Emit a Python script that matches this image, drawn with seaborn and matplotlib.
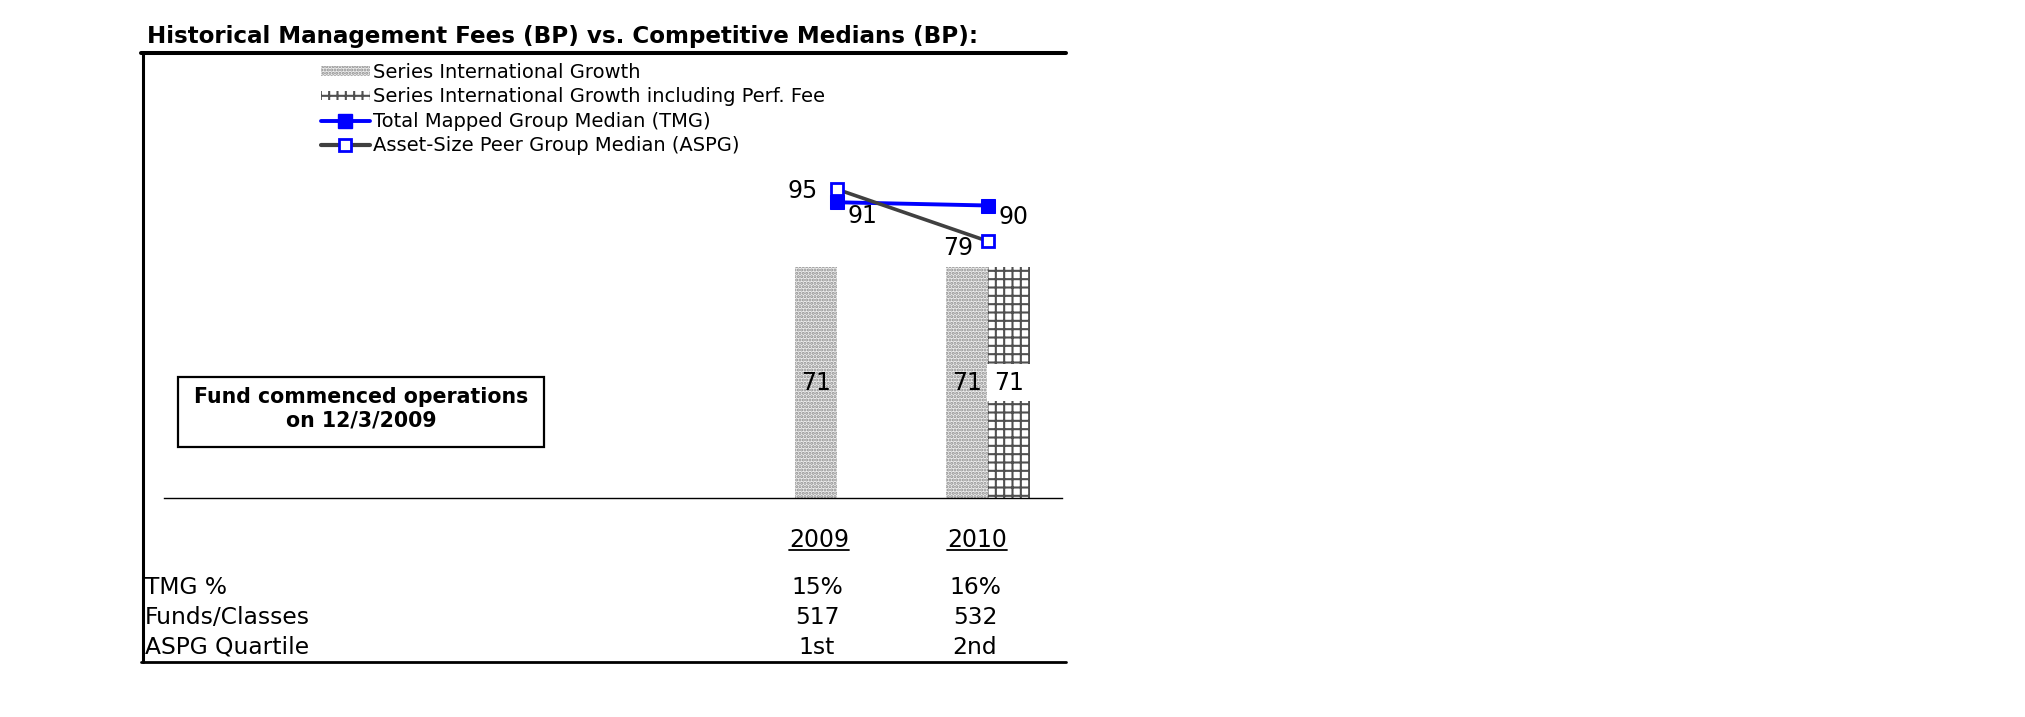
import numpy as np
import pandas as pd
import matplotlib
matplotlib.use("Agg")
import matplotlib.pyplot as plt
import seaborn as sns
from matplotlib.patches import Patch, Rectangle
from matplotlib.lines import Line2D

# chart data
years = ["2009", "2010"]
fund_fee = [71, 71]
perf_fee = [np.nan, 71]
tmg_median = [91, 90]
aspg_median = [95, 79]

series_names = ["Series International Growth",
                "Series International Growth including Perf. Fee",
                "Total Mapped Group Median (TMG)",
                "Asset-Size Peer Group Median (ASPG)"]

row_labels = ["TMG %", "Funds/Classes", "ASPG Quartile"]
tmg_pct = ["15%", "16%"]
funds_classes = ["517", "532"]
aspg_quartile = ["1st", "2nd"]

W, H = 2025, 717


def fx(px):
    return px / W


def fy(py):
    return 1 - py / H


sns.set_style("white")
plt.rcParams["font.family"] = ["DejaVu Sans"]
plt.rcParams["text.color"] = "black"
plt.rcParams["hatch.linewidth"] = 1.5

fig = plt.figure(figsize=(W / 100, H / 100), dpi=100)
ax = fig.add_axes([fx(164), fy(498), fx(1062) - fx(164), (498 - 52) / H])

bars = pd.DataFrame({
    "year": years * 2,
    "series": [series_names[0]] * 2 + [series_names[1]] * 2,
    "fee": fund_fee + perf_fee,
})
sns.barplot(data=bars, x="year", y="fee", hue="series", width=0.56,
            errorbar=None, legend=False, ax=ax)

bar_styles = [
    dict(facecolor="#eeeeee", edgecolor="#8c8c8c", hatch="....."),
    dict(facecolor="white", edgecolor="#505050", hatch="++"),
]
for cont, st in zip(ax.containers, bar_styles):
    for p in cont:
        p.set_facecolor(st["facecolor"])
        p.set_edgecolor(st["edgecolor"])
        p.set_hatch(st["hatch"])
        p.set_linewidth(0)

# value labels inside bars
ax.bar_label(ax.containers[0], fmt="%.0f", label_type="center", fontsize=17,
             color="black")
ax.bar_label(ax.containers[1], fmt="%.0f", label_type="center", fontsize=17,
             color="black", bbox=dict(facecolor="white", edgecolor="none", pad=5))

# median lines
xpos = np.arange(len(years))
sns.lineplot(x=xpos, y=tmg_median, ax=ax, color="#0000ff", lw=2.8,
             marker="s", markersize=9.5, markeredgecolor="#0000ff")
sns.lineplot(x=xpos, y=aspg_median, ax=ax, color="#404040", lw=2.6,
             marker="s", markersize=8, markerfacecolor="white",
             markeredgecolor="#0000ff", markeredgewidth=2)

offsets_tmg = [(25, -14), (25, -12)]
offsets_aspg = [(-34, -2), (-30, -7)]
for i in range(len(years)):
    ax.annotate(f"{tmg_median[i]}", (xpos[i], tmg_median[i]), xytext=offsets_tmg[i],
                textcoords="offset pixels", ha="center", va="center", fontsize=17)
    ax.annotate(f"{aspg_median[i]}", (xpos[i], aspg_median[i]), xytext=offsets_aspg[i],
                textcoords="offset pixels", ha="center", va="center", fontsize=17)

ax.set_xlim((164 - 837) / 151, (1062 - 837) / 151)
ax.set_ylim(0, (498 - 52) / 3.25)
ax.set_xticks([])
ax.set_yticks([])
ax.set_xlabel("")
ax.set_ylabel("")
for s in ["top", "left", "right"]:
    ax.spines[s].set_visible(False)
ax.spines["bottom"].set_color("black")
ax.spines["bottom"].set_linewidth(1.0)
ax.patch.set_alpha(0)

# legend
handles = [
    Patch(facecolor="#eeeeee", edgecolor="#8c8c8c", hatch=".....", lw=0),
    Patch(facecolor="white", edgecolor="#505050", hatch="++", lw=0),
    Line2D([], [], color="#0000ff", lw=2.8, marker="s", markersize=9.5),
    Line2D([], [], color="#404040", lw=3, marker="s", markersize=8,
           markerfacecolor="white", markeredgecolor="#0000ff", markeredgewidth=2),
]
fig.legend(handles, series_names, loc="upper left",
           bbox_to_anchor=(fx(321), fy(63)), frameon=False, fontsize=14,
           handlelength=2.5, handleheight=0.4, handletextpad=0.15,
           labelspacing=0.28, borderpad=0, borderaxespad=0)

# title
fig.text(fx(147), fy(37), "Historical Management Fees (BP) vs. Competitive Medians (BP):",
         ha="left", va="center", fontsize=16.6, fontweight="bold")

# frame lines (top, left, bottom)
fig.add_artist(Line2D([fx(141), fx(1066)], [fy(53), fy(53)], lw=2.9, color="black",
                      transform=fig.transFigure))
fig.add_artist(Line2D([fx(143), fx(143)], [fy(53), fy(662)], lw=2.2, color="black",
                      transform=fig.transFigure))
fig.add_artist(Line2D([fx(141), fx(1066)], [fy(662), fy(662)], lw=2.0, color="black",
                      transform=fig.transFigure))

# note box
fig.add_artist(Rectangle((fx(178), fy(447)), fx(544) - fx(178), (447 - 377) / H,
                         fill=False, lw=1.6, edgecolor="black",
                         transform=fig.transFigure))
fig.text(fx(361), fy(409), "Fund commenced operations\non 12/3/2009", ha="center",
         va="center", fontsize=14.8, fontweight="bold", linespacing=1.2)

# data table under the chart
col_x = [819, 977]
head = [fig.text(fx(x), fy(540), y, ha="center", va="center", fontsize=17)
        for x, y in zip(col_x, years)]
row_y = [588, 617, 647]
rows = [tmg_pct, funds_classes, aspg_quartile]
for ry, lab, vals in zip(row_y, row_labels, rows):
    fig.text(fx(145), fy(ry), lab, ha="left", va="center", fontsize=16.8)
    for x, v in zip(col_x, vals):
        fig.text(fx(x - 2), fy(ry), v, ha="center", va="center", fontsize=16.8)

# underline the year headers
fig.canvas.draw()
r = fig.canvas.get_renderer()
for t in head:
    bb = t.get_window_extent(r)
    yy = bb.y0 + 2
    fig.add_artist(Line2D([bb.x0 / W, bb.x1 / W], [yy / H, yy / H], lw=1.3,
                          color="black", transform=fig.transFigure))

fig.savefig("out.png", dpi=100)
